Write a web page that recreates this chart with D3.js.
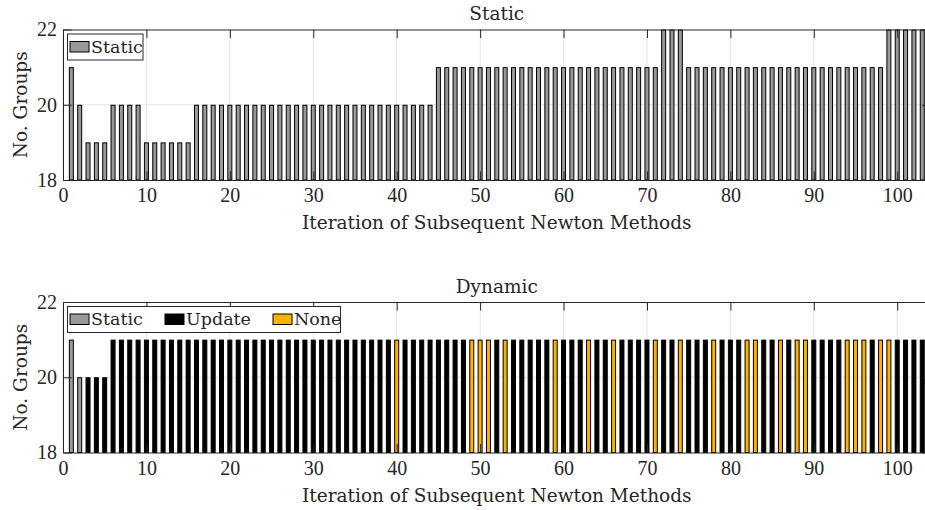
<!DOCTYPE html>
<html><head><meta charset="utf-8">
<script src="https://cdn.jsdelivr.net/npm/d3@7"></script>
<style>
body{margin:0;background:#fff;}
svg text{font-family:"DejaVu Serif","Liberation Serif",serif;fill:#262626;}
svg .tick text{font-family:"Liberation Serif","Times New Roman",serif;}
</style>
</head><body>
<svg id="chart" width="925" height="510"></svg>
<script>
// ---------------- data ----------------
const staticGroups = [
  21,20,19,19,19,20,20,20,20,19,
  19,19,19,19,19,20,20,20,20,20,
  20,20,20,20,20,20,20,20,20,20,
  20,20,20,20,20,20,20,20,20,20,
  20,20,20,20,21,21,21,21,21,21,
  21,21,21,21,21,21,21,21,21,21,
  21,21,21,21,21,21,21,21,21,21,
  21,22,22,22,21,21,21,21,21,21,
  21,21,21,21,21,21,21,21,21,21,
  21,21,21,21,21,21,21,21,22,22,
  22,22,22
];
const dynamicGroups = [
  21,20,20,20,20,21,21,21,21,21,
  21,21,21,21,21,21,21,21,21,21,
  21,21,21,21,21,21,21,21,21,21,
  21,21,21,21,21,21,21,21,21,21,
  21,21,21,21,21,21,21,21,21,21,
  21,21,21,21,21,21,21,21,21,21,
  21,21,21,21,21,21,21,21,21,21,
  21,21,21,21,21,21,21,21,21,21,
  21,21,21,21,21,21,21,21,21,21,
  21,21,21,21,21,21,21,21,21,21,
  21,21,21
];
// S = Static, U = Update, N = None
const dynamicMethod = [
  "S","S","U","U","U","U","U","U","U","U",
  "U","U","U","U","U","U","U","U","U","U",
  "U","U","U","U","U","U","U","U","U","U",
  "U","U","U","U","U","U","U","U","U","N",
  "U","U","U","U","U","U","U","U","N","N",
  "N","U","N","U","U","U","U","U","N","U",
  "U","U","N","U","U","N","U","U","U","U",
  "N","U","U","N","U","U","U","N","U","U",
  "U","N","N","U","U","N","U","N","N","U",
  "U","U","U","N","N","N","U","N","N","U",
  "U","U","U"
];
const iterations = staticGroups.map((_, i) => i + 1);
const methodKeys = ["S","U","N"];
const methodNames = ["Static","Update","None"];
const methodColors = {S:"#999999", U:"#000000", N:"#ffb000"};
const xTicks = [0,10,20,30,40,50,60,70,80,90,100];
const yTicks = [18,20,22];
const xLabel = "Iteration of Subsequent Newton Methods";
const yLabel = "No. Groups";

// ---------------- drawing ----------------
const svg = d3.select("#chart");
const FS = 20;      // tick numbers
const LFS = 18.5;   // labels
const GFS = 17.5;   // legend
const axisColor = "#262626";
const left = 63, right = 930.6;
const x = d3.scaleLinear().domain([0,104]).range([left, right]);
const tickLen = 8.6;

function panel(top, title, values, colorOf, legendItems, legendRight) {
  const bottom = top + 150.5;
  const y = d3.scaleLinear().domain([18,22]).range([bottom, top]);
  const g = svg.append("g");

  // grid
  g.append("g").selectAll("line").data(xTicks).join("line")
    .attr("x1", d => x(d)).attr("x2", d => x(d))
    .attr("y1", top).attr("y2", bottom)
    .attr("stroke", "#e3e3e3").attr("stroke-width", 1);
  g.append("g").selectAll("line").data(yTicks.slice(1,-1)).join("line")
    .attr("x1", left).attr("x2", right)
    .attr("y1", d => y(d)).attr("y2", d => y(d))
    .attr("stroke", "#e3e3e3").attr("stroke-width", 1);

  // bars
  const bw = (x(1) - x(0)) * 0.6;
  g.append("g").selectAll("rect").data(iterations).join("rect")
    .attr("x", d => x(d) - bw/2 + 0.5)
    .attr("width", bw - 1)
    .attr("y", (d,i) => y(values[i]) + 0.5)
    .attr("height", (d,i) => y(18) - y(values[i]) - 0.5)
    .attr("fill", (d,i) => colorOf(i))
    .attr("stroke", "#000").attr("stroke-width", 1);

  // axes
  const fmt = d3.format("d");
  const ax = g.append("g").attr("transform", `translate(0,${bottom})`)
    .call(d3.axisBottom(x).tickValues(xTicks).tickSizeInner(-tickLen).tickSizeOuter(0).tickPadding(8).tickFormat(fmt));
  const axT = g.append("g").attr("transform", `translate(0,${top})`)
    .call(d3.axisTop(x).tickValues(xTicks).tickSizeInner(-tickLen).tickSizeOuter(0).tickFormat(""));
  const ay = g.append("g").attr("transform", `translate(${left},0)`)
    .call(d3.axisLeft(y).tickValues(yTicks).tickSizeInner(-tickLen).tickSizeOuter(0).tickPadding(6).tickFormat(fmt));
  const ayR = g.append("g").attr("transform", `translate(${right},0)`)
    .call(d3.axisRight(y).tickValues(yTicks).tickSizeInner(-tickLen).tickSizeOuter(0).tickFormat(""));
  [ax, axT, ay, ayR].forEach(a => {
    a.attr("font-family", null).attr("font-size", null);
    a.selectAll("path.domain").attr("stroke", axisColor).attr("stroke-width", 1);
    a.selectAll(".tick line").attr("stroke", axisColor).attr("stroke-width", 1);
    a.selectAll(".tick text").style("font-size", FS + "px").attr("fill", axisColor);
  });

  // title
  g.append("text").attr("x", (left + right)/2).attr("y", top - 9.5)
    .attr("text-anchor", "middle").style("font-size", LFS + "px").text(title);
  // x label
  g.append("text").attr("x", (left + right)/2).attr("y", bottom + 49)
    .attr("text-anchor", "middle").style("font-size", LFS + "px").text(xLabel);
  // y label
  g.append("text").attr("transform", `translate(27,${(top+bottom)/2}) rotate(-90)`)
    .attr("text-anchor", "middle").style("font-size", LFS + "px").text(yLabel);

  // legend
  const ly = top + 4.5;
  const lg = g.append("g");
  lg.append("rect").attr("x", 67.5).attr("y", ly).attr("width", legendRight - 67.5).attr("height", 26)
    .attr("fill", "#fff").attr("stroke", axisColor).attr("stroke-width", 1);
  legendItems.forEach(it => {
    lg.append("rect").attr("x", it.x + 0.5).attr("y", ly + 7.5).attr("width", 19).attr("height", 10.5)
      .attr("fill", it.color).attr("stroke", "#000").attr("stroke-width", 1);
    lg.append("text").attr("x", it.x + 21.5).attr("y", ly + 18.5)
      .style("font-size", GFS + "px").text(it.name);
  });
}

panel(29.5, "Static", staticGroups, i => methodColors.S,
  [{x: 69.5, name: methodNames[0], color: methodColors.S}], 143);

panel(302, "Dynamic", dynamicGroups, i => methodColors[dynamicMethod[i]],
  [{x: 69.5, name: methodNames[0], color: methodColors[methodKeys[0]]},
   {x: 164.5, name: methodNames[1], color: methodColors[methodKeys[1]]},
   {x: 272.5, name: methodNames[2], color: methodColors[methodKeys[2]]}], 340.5);
</script>
</body></html>
